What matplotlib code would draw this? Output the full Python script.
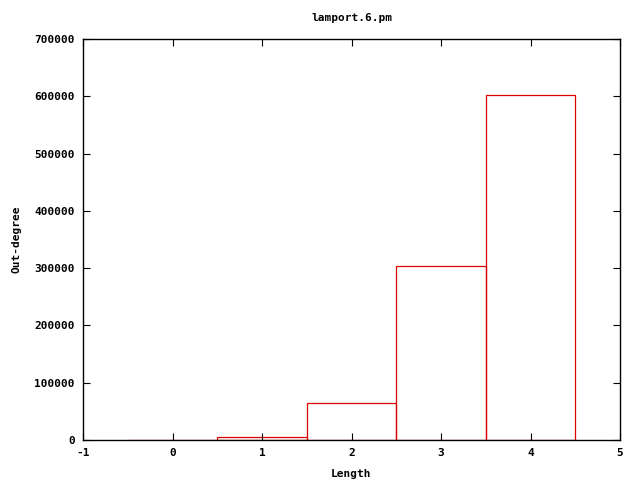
import matplotlib
matplotlib.use('Agg')
import matplotlib.pyplot as plt

lengths = [0, 1, 2, 3, 4]
outdeg = [0, 5000, 65000, 303000, 603000]
xticks = [-1, 0, 1, 2, 3, 4, 5]
yticks = [0, 100000, 200000, 300000, 400000, 500000, 600000, 700000]

plt.rcParams['font.family'] = 'DejaVu Sans Mono'
plt.rcParams['font.weight'] = 'bold'
plt.rcParams['font.size'] = 8
plt.rcParams['axes.unicode_minus'] = False

fig = plt.figure(figsize=(6.4, 4.8), dpi=100)
ax = fig.add_axes([83/640, 40/480, (620-83)/640, (440-39)/480])

ax.bar(lengths, outdeg, width=1.0, fill=False, edgecolor='#dd0000', linewidth=0.9)

ax.set_xlim(-1, 5)
ax.set_ylim(0, 700000)
ax.set_xticks(xticks)
ax.set_yticks(yticks)
ax.tick_params(direction='in', top=True, right=True, length=5, width=0.8, pad=6)
for s in ax.spines.values():
    s.set_linewidth(1)

ax.set_title('lamport.6.pm', fontsize=8, fontweight='bold', pad=13)
ax.set_xlabel('Length', fontweight='bold', labelpad=8)
ax.set_ylabel('Out-degree', fontweight='bold', labelpad=9)

fig.savefig('out.png', dpi=100)
